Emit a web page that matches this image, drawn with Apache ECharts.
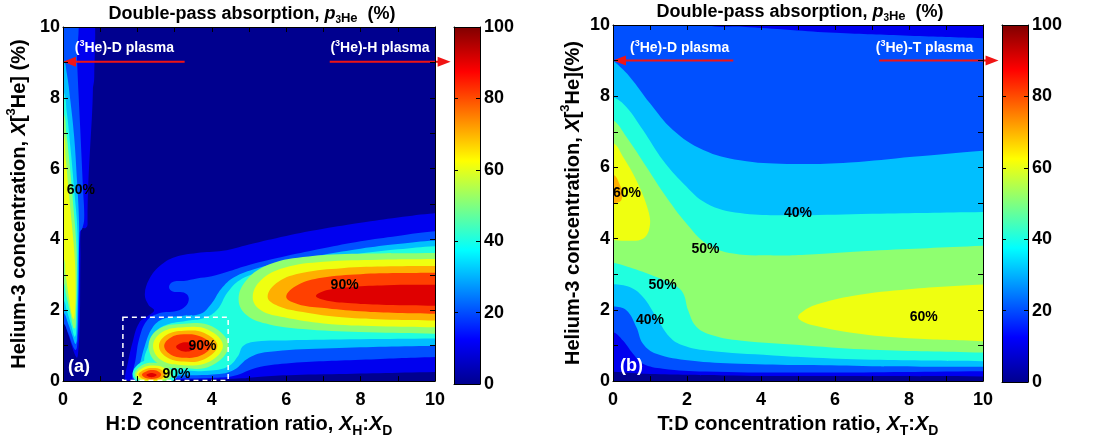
<!DOCTYPE html>
<html>
<head>
<meta charset="utf-8">
<script src="https://cdn.jsdelivr.net/npm/echarts@6/dist/echarts.min.js"></script>
<style>
html, body { margin: 0; padding: 0; background: #fff; }
#chart { width: 1101px; height: 443px; }
</style>
</head>
<body>
<div id="chart"></div>
<script>
// contour regions, in axis units: each array is the outline of "value >= level"

// panel (a): H:D, left strip near X_H:X_D = 0
const a10Strip = [[-0.3,10.5],[0.66,10.5],[0.66,4.5],[0.65,4.37],[0.6,4.32],[0.49,4.3],[0.47,3.5],[0.46,2.2],[0.44,1.3],[0.41,0.85],[0.38,0.66],[0.33,0.72],[0.22,1.05],[0.1,1.45],[0,1.75],[-0.3,1.9]];
const a10Finger = [[0.7,10.5],[0.84,10.5],[0.84,8.6],[0.81,8.32],[0.77,8.27],[0.73,8.32],[0.7,8.6]];
const a20Strip = [[-0.3,10.5],[0.33,10.5],[0.38,9],[0.46,7.2],[0.54,5.4],[0.57,4.6],[0.52,4.32],[0.45,4.2],[0.43,3],[0.41,1.6],[0.38,1.0],[0.34,0.88],[0.27,0.98],[0.14,1.35],[0,1.65],[-0.3,1.8]];
const a30Strip = [[-0.3,9.3],[0,9.1],[0.1,8.7],[0.2,7.9],[0.3,6.9],[0.38,5.6],[0.43,4.5],[0.42,3.2],[0.4,2.0],[0.37,1.15],[0.33,1.05],[0.26,1.25],[0.13,1.65],[0,1.95],[-0.3,2.05]];
const a40Strip = [[-0.3,8.4],[0,8.2],[0.1,7.6],[0.2,6.6],[0.31,5.3],[0.39,4.2],[0.39,3.0],[0.37,2.0],[0.35,1.35],[0.31,1.25],[0.23,1.55],[0.1,2.0],[0,2.3],[-0.3,2.4]];
const a50Strip = [[-0.3,7.8],[0,7.6],[0.09,7.0],[0.19,6.0],[0.29,4.8],[0.36,3.8],[0.37,2.8],[0.35,1.9],[0.33,1.5],[0.28,1.5],[0.2,1.9],[0.08,2.45],[0,2.8],[-0.3,2.9]];
const a60Strip = [[-0.3,7.2],[0,7.0],[0.07,6.3],[0.15,5.4],[0.24,4.4],[0.32,3.4],[0.34,2.5],[0.32,1.95],[0.29,1.75],[0.24,1.85],[0.16,2.35],[0.07,3.0],[0,3.5],[-0.3,3.6]];

// panel (a): main structure
const a10Main = [[10.8,4.77],[10,4.74],[9,4.62],[8,4.47],[7,4.3],[6,4.1],[5,3.86],[4.3,3.68],[3.6,3.62],[3.0,3.5],[2.6,3.25],[2.32,2.88],[2.2,2.45],[2.3,2.15],[2.45,2.0],[2.3,1.85],[2.05,1.65],[1.87,1.1],[1.74,0.5],[1.66,0.08],[1.7,0.02],[2.5,0.03],[4,0.05],[4.8,0.08],[5.5,0.14],[7,0.19],[10,0.26],[10.8,0.27]];
const a20Main = [[10.8,4.25],[10,4.23],[9,4.1],[8,3.95],[7,3.75],[6,3.53],[5,3.28],[4.4,3.08],[4.0,2.96],[3.6,2.9],[3.25,2.83],[2.95,2.8],[2.85,2.66],[2.95,2.53],[3.25,2.5],[3.38,2.35],[3.3,2.12],[3.05,1.98],[2.6,1.92],[2.25,1.7],[2.05,1.2],[1.95,0.6],[1.86,0.12],[1.9,0.05],[2.5,0.07],[4,0.09],[4.6,0.15],[5.2,0.38],[6,0.5],[8,0.6],[10,0.68],[10.8,0.69]];
const a30Main = [[10.8,3.99],[10,3.97],[9,3.87],[8,3.74],[7,3.57],[6,3.38],[5.2,3.18],[4.6,2.93],[4.25,2.6],[4.0,2.2],[3.7,1.9],[3.2,1.84],[2.7,1.76],[2.4,1.5],[2.2,1.0],[2.06,0.45],[1.97,0.1],[2.0,0.06],[3,0.15],[4.2,0.2],[4.6,0.32],[5.0,0.66],[5.5,0.82],[7,0.92],[10,1.0],[10.8,1.0]];
const a40Main = [[10.8,3.82],[10,3.81],[9,3.72],[8,3.6],[7,3.45],[6,3.27],[5.3,3.08],[4.75,2.85],[4.42,2.5],[4.15,2.02],[3.8,1.78],[3.3,1.7],[2.8,1.6],[2.5,1.4],[2.28,0.95],[2.18,0.55],[2.3,0.38],[2.6,0.33],[3.2,0.29],[4.0,0.3],[4.45,0.42],[4.7,0.7],[4.85,1.0],[5.2,1.12],[6,1.15],[8,1.18],[10,1.2],[10.8,1.2]];
const a40Small = [[1.87,0.18],[2.05,0.5],[2.45,0.6],[2.85,0.5],[3.1,0.25],[2.85,-0.05],[2.1,-0.08]];

const a50Ring = [[2.3,0.99],[2.55,1.46],[3.25,1.62],[4.0,1.55],[4.45,1.0],[4.0,0.44],[3.25,0.36],[2.55,0.5]];
const a60Ring = [[2.42,0.99],[2.66,1.38],[3.25,1.52],[3.9,1.45],[4.3,1.0],[3.9,0.53],[3.25,0.45],[2.66,0.58]];
const a70Ring = [[2.58,0.99],[2.78,1.3],[3.25,1.42],[3.8,1.36],[4.15,1.0],[3.8,0.62],[3.25,0.55],[2.78,0.68]];
const a80Ring = [[2.72,0.99],[2.88,1.22],[3.25,1.32],[3.7,1.26],[3.98,1.0],[3.7,0.72],[3.25,0.66],[2.88,0.76]];
const a90Ring = [[3.04,0.97],[3.14,1.06],[3.3,1.1],[3.47,1.06],[3.56,0.97],[3.47,0.87],[3.3,0.83],[3.14,0.87]];

const a50Small = [[1.92,0.18],[2.12,0.45],[2.45,0.52],[2.78,0.43],[2.95,0.2],[2.7,-0.03],[2.15,-0.03]];
const a60Small = [[1.97,0.18],[2.15,0.38],[2.45,0.44],[2.72,0.37],[2.85,0.19],[2.65,0.02],[2.2,0.01]];
const a70Small = [[2.03,0.18],[2.2,0.33],[2.42,0.37],[2.64,0.32],[2.75,0.18],[2.6,0.05],[2.22,0.04]];
const a80Small = [[2.12,0.18],[2.25,0.28],[2.4,0.31],[2.55,0.28],[2.64,0.18],[2.52,0.08],[2.25,0.08]];
const a90Small = [[2.24,0.17],[2.38,0.23],[2.52,0.17],[2.38,0.11]];

const a50Ell = [[4.72,2.3],[4.93,2.85],[5.55,3.3],[6.6,3.52],[8.2,3.6],[10,3.62],[10.8,3.63],[10.8,1.33],[10,1.34],[8.2,1.38],[6.6,1.46],[5.55,1.6],[4.95,1.85]];
const a60Ell = [[5.1,2.36],[5.32,2.85],[5.95,3.2],[7,3.37],[8.5,3.43],[10,3.45],[10.8,3.46],[10.8,1.5],[10,1.52],[8.5,1.55],[7,1.63],[5.95,1.8],[5.32,2.0]];
const a70Ell = [[5.5,2.38],[5.78,2.8],[6.45,3.06],[7.5,3.19],[8.8,3.24],[10,3.25],[10.8,3.26],[10.8,1.7],[10,1.71],[8.8,1.73],[7.5,1.8],[6.45,1.95],[5.78,2.12]];
const a80Ell = [[6.0,2.38],[6.32,2.72],[6.95,2.92],[8,3.02],[9,3.05],[10,3.06],[10.8,3.07],[10.8,1.89],[10,1.9],[9,1.92],[8,1.97],[6.95,2.07],[6.32,2.17]];
const a90Ell = [[6.8,2.4],[7.1,2.57],[7.75,2.66],[8.7,2.71],[10,2.72],[10.8,2.73],[10.8,2.12],[10,2.13],[8.7,2.15],[7.75,2.2],[7.1,2.27]];

// panel (b): T:D
const b10 = [[-0.5,10.5],[10.5,10.5],[10.5,0.13],[10,0.13],[5,0.14],[3,0.16],[1,0.2],[0,0.26],[-0.5,0.28]];
const b20 = [[-0.5,10.5],[2.0,10.5],[2.5,10.02],[3.5,9.95],[4.8,9.86],[6,9.78],[8,9.7],[10,9.63],[10.5,9.6],[10.5,0.28],[10,0.28],[5.2,0.24],[2.5,0.27],[1.35,0.35],[0.81,0.49],[0.54,0.77],[0.27,1.14],[0,1.38],[-0.5,1.45]];
const b30 = [[-0.5,9.4],[0,9.0],[0.45,8.55],[1.0,7.8],[1.62,7.05],[2.44,6.49],[3.43,6.2],[4.7,6.1],[6.4,6.14],[8.1,6.3],[10,6.47],[10.5,6.5],[10.5,0.4],[10,0.4],[7,0.42],[5.2,0.45],[3.43,0.49],[2.08,0.58],[1.17,0.77],[0.81,1.05],[0.63,1.52],[0.36,1.99],[0,2.1],[-0.5,2.15]];
const b40 = [[-0.5,8.1],[0,7.98],[0.36,7.7],[0.81,7.05],[1.35,6.2],[1.9,5.55],[2.53,4.99],[3.43,4.72],[4.87,4.66],[7,4.7],[10,4.75],[10.5,4.76],[10.5,0.56],[10,0.56],[7,0.6],[5.2,0.67],[4.33,0.72],[2.53,0.86],[1.9,1.0],[1.53,1.24],[1.17,1.8],[0.81,2.36],[0.45,2.64],[0,2.72],[-0.5,2.74]];
const b50 = [[-0.5,7.5],[0,7.33],[0.36,6.86],[0.9,6.02],[1.44,5.17],[1.99,4.42],[2.53,3.86],[3.25,3.58],[4.33,3.53],[5.2,3.55],[7,3.66],[10,3.8],[10.5,3.82],[10.5,0.79],[10,0.8],[7,0.88],[5.2,1.0],[3.43,1.14],[2.71,1.28],[2.26,1.52],[2.03,1.99],[1.9,2.46],[1.67,2.69],[1.17,2.92],[0.54,3.16],[0,3.32],[-0.5,3.35]];
const b60Left = [[-0.5,6.8],[0,6.69],[0.27,6.3],[0.63,5.64],[0.95,4.8],[0.99,4.33],[0.81,4.0],[0.36,3.94],[0,3.96],[-0.5,3.96]];
const b60Right = [[5.0,1.8],[5.15,1.97],[5.5,2.15],[6.5,2.4],[8,2.58],[10,2.71],[10.8,2.74],[10.8,1.09],[10,1.12],[8,1.2],[6.5,1.35],[5.5,1.55],[5.15,1.66]];
const b70Left = [[-0.5,5.85],[0,5.8],[0.17,5.55],[0.25,5.25],[0.2,5.05],[0,5.0],[-0.5,5.0]];

const contoursA = [
  [10, a10Strip], [10, a10Finger], [10, a10Main],
  [20, a20Strip], [20, a20Main],
  [30, a30Strip], [30, a30Main],
  [40, a40Strip], [40, a40Main], [40, a40Small],
  [50, a50Strip], [50, a50Ring], [50, a50Ell], [50, a50Small],
  [60, a60Strip], [60, a60Ring], [60, a60Ell], [60, a60Small],
  [70, a70Ring], [70, a70Ell], [70, a70Small],
  [80, a80Ring], [80, a80Ell], [80, a80Small],
  [90, a90Ring], [90, a90Ell], [90, a90Small]
];
const contoursB = [
  [10, b10], [20, b20], [30, b30], [40, b40], [50, b50],
  [60, b60Left], [60, b60Right], [70, b70Left]
];

// contour labels: text, x, y
const labelsA = [['60%', 0.48, 5.38], ['90%', 7.57, 2.72], ['90%', 3.75, 0.98], ['90%', 3.05, 0.2]];
const labelsB = [['60%', 0.38, 5.28], ['40%', 5.0, 4.72], ['50%', 2.5, 3.71], ['50%', 1.34, 2.69], ['40%', 1.0, 1.71], ['60%', 8.4, 1.79]];

// plasma annotations: text, x, y   and arrows: x from, y, x to, y
const plasmaA = [['({s|3}He)-D plasma', 1.65, 9.41], ['({s|3}He)-H plasma', 8.52, 9.41]];
const plasmaB = [['({s|3}He)-D plasma', 1.8, 9.36], ['({s|3}He)-T plasma', 8.42, 9.36]];
const arrowsA = [[3.27, 9.02, 0, 9.02], [7.17, 9.02, 10.42, 9.02]];
const arrowsB = [[3.25, 9.0, 0, 9.0], [7.19, 9.0, 10.42, 9.0]];
const tagA = ['(a)', 0.43, 0.4];
const tagB = ['(b)', 0.5, 0.42];
const boxA = [1.61, 0.02, 4.44, 1.8];

const axisLabels = [0, 2, 4, 6, 8, 10];
const cbarLabels = [0, 20, 40, 60, 80, 100];

// ---- styling ----
const FONT = '"Liberation Sans", Arial, sans-serif';
const levelColors = {0: '#00008f', 10: '#0000ef', 20: '#0050ff', 30: '#00bfff', 40: '#20ffdf',
  50: '#8fff70', 60: '#efff10', 70: '#ffaf00', 80: '#ff4000', 90: '#df0000'};
const jetStops = [[0, '#00008f'], [0.125, '#0000ff'], [0.375, '#00ffff'], [0.625, '#ffff00'], [0.875, '#ff0000'], [1, '#800000']];
const ARROW = '#f01414';

const axLine = {show: true, onZero: false, lineStyle: {color: '#000', width: 1}};
const axTick = {show: true, inside: true, length: 5, lineStyle: {color: '#000', width: 1}};
const tickFont = {color: '#000', fontSize: 18, fontWeight: 'bold', fontFamily: FONT};

function tok(size, extra) {
  return Object.assign({fontSize: size, fontWeight: 'bold', fontFamily: FONT, color: '#000'}, extra || {});
}
const nameRich = {
  b: tok(20, {lineHeight: 28}),
  i: tok(20, {lineHeight: 28, fontStyle: 'italic'}),
  sub: tok(14, {lineHeight: 14, verticalAlign: 'bottom'}),
  sup: tok(13, {lineHeight: 12, verticalAlign: 'top'})
};
const titleRich = {
  b: tok(18, {lineHeight: 22}),
  i: tok(18, {lineHeight: 22, fontStyle: 'italic'}),
  s3: tok(10, {lineHeight: 16, verticalAlign: 'bottom'}),
  sub: tok(13, {lineHeight: 13, verticalAlign: 'bottom'})
};
const titleText = '{b|Double-pass absorption, }{i|p}{s3|3}{sub|He}{b|  (%)}';

function labelFmt(list) {
  return function (v) { return list.indexOf(v) >= 0 ? String(v) : ''; };
}

function xAxes(grid, name) {
  return [
    {gridIndex: grid, type: 'value', min: 0, max: 10, interval: 1, position: 'bottom', z: 10,
      axisLine: axLine, axisTick: axTick, splitLine: {show: false},
      axisLabel: Object.assign({margin: 10, formatter: labelFmt(axisLabels)}, tickFont),
      name: name, nameLocation: 'middle', nameGap: 25, nameTextStyle: {rich: nameRich}},
    {gridIndex: grid, type: 'value', min: 0, max: 10, interval: 1, position: 'top', z: 10,
      axisLine: axLine, axisTick: axTick, splitLine: {show: false}, axisLabel: {show: false}}
  ];
}
function yAxes(grid, name, gap) {
  return [
    {gridIndex: grid, type: 'value', min: 0, max: 10, interval: 1, position: 'left', z: 10,
      axisLine: axLine, axisTick: axTick, splitLine: {show: false},
      axisLabel: Object.assign({margin: 3, formatter: labelFmt(axisLabels)}, tickFont),
      name: name, nameLocation: 'middle', nameGap: gap, nameRotate: 90, nameTextStyle: {rich: nameRich}},
    {gridIndex: grid, type: 'value', min: 0, max: 10, interval: 1, position: 'right', z: 10,
      axisLine: axLine, axisTick: axTick, splitLine: {show: false}, axisLabel: {show: false}}
  ];
}
function cbarAxes(grid) {
  const x = [
    {gridIndex: grid, type: 'value', min: 0, max: 1, position: 'bottom', z: 10, axisLine: axLine,
      axisTick: {show: false}, axisLabel: {show: false}, splitLine: {show: false}},
    {gridIndex: grid, type: 'value', min: 0, max: 1, position: 'top', z: 10, axisLine: axLine,
      axisTick: {show: false}, axisLabel: {show: false}, splitLine: {show: false}}
  ];
  const y = [
    {gridIndex: grid, type: 'value', min: 0, max: 100, interval: 20, position: 'right', z: 10,
      axisLine: axLine, axisTick: {show: true, inside: true, length: 4, lineStyle: {color: '#000'}},
      splitLine: {show: false}, axisLabel: Object.assign({margin: 4, formatter: labelFmt(cbarLabels)}, tickFont)},
    {gridIndex: grid, type: 'value', min: 0, max: 100, interval: 20, position: 'left', z: 10,
      axisLine: axLine, axisTick: {show: true, inside: true, length: 4, lineStyle: {color: '#000'}},
      splitLine: {show: false}, axisLabel: {show: false}}
  ];
  return {x: x, y: y};
}

function contourSeries(axis, list) {
  return {
    type: 'custom', xAxisIndex: axis, yAxisIndex: axis, z: 2, silent: true, clip: true,
    data: list.map(function (c, i) { return [5, 5, i]; }),
    renderItem: function (params, api) {
      const item = list[params.dataIndex];
      const cs = params.coordSys;
      return {
        type: 'group',
        clipPath: {type: 'rect', shape: {x: cs.x, y: cs.y, width: cs.width, height: cs.height}},
        children: [{
          type: 'polygon',
          shape: {points: item[1].map(function (p) { return api.coord(p); }), smooth: 0.4},
          style: {fill: levelColors[item[0]], stroke: null}
        }]
      };
    }
  };
}

function textEl(p, text, size, color, rich) {
  return {
    type: 'text', x: p[0], y: p[1],
    style: {text: text, fill: color, fontSize: size, fontWeight: 'bold', fontFamily: FONT,
      align: 'center', verticalAlign: 'middle', lineHeight: size + 4, rich: rich || {}}
  };
}

function annotationSeries(axis, arrows, plasma, labels, tag, box) {
  return {
    type: 'custom', xAxisIndex: axis, yAxisIndex: axis, z: 5, silent: true, clip: false,
    data: [[5, 5]],
    renderItem: function (params, api) {
      const ch = [];
      if (box) {
        const q0 = api.coord([box[0], box[3]]), q1 = api.coord([box[2], box[1]]);
        ch.push({type: 'rect', shape: {x: q0[0], y: q0[1], width: q1[0] - q0[0], height: q1[1] - q0[1]},
          style: {fill: 'rgba(0,0,0,0)', stroke: '#fff', lineWidth: 1.5, lineDash: [5, 4]}});
      }
      arrows.forEach(function (a) {
        const p0 = api.coord([a[0], a[1]]), p1 = api.coord([a[2], a[3]]);
        const dir = p1[0] > p0[0] ? 1 : -1;
        ch.push({type: 'line', shape: {x1: p0[0], y1: p0[1], x2: p1[0] - dir * 8, y2: p1[1]},
          style: {stroke: ARROW, lineWidth: 2}});
        ch.push({type: 'polygon', shape: {points: [[p1[0], p1[1]], [p1[0] - dir * 13, p1[1] - 5], [p1[0] - dir * 13, p1[1] + 5]]},
          style: {fill: ARROW}});
      });
      const supRich = {s: {fontSize: 9, fontWeight: 'bold', fontFamily: FONT, fill: '#fff', color: '#fff', lineHeight: 10, verticalAlign: 'top'}};
      plasma.forEach(function (t) { ch.push(textEl(api.coord([t[1], t[2]]), t[0], 14, '#fff', supRich)); });
      labels.forEach(function (t) { ch.push(textEl(api.coord([t[1], t[2]]), t[0], 14, '#000')); });
      ch.push(textEl(api.coord([tag[1], tag[2]]), tag[0], 18, '#fff'));
      return {type: 'group', children: ch};
    }
  };
}

function cbarSeries(axis) {
  return {
    type: 'custom', xAxisIndex: axis, yAxisIndex: axis, z: 2, silent: true,
    data: [[0.5, 50]],
    renderItem: function (params, api) {
      const p0 = api.coord([0, 100]), p1 = api.coord([1, 0]);
      return {
        type: 'rect', shape: {x: p0[0], y: p0[1], width: p1[0] - p0[0], height: p1[1] - p0[1]},
        style: {fill: new echarts.graphic.LinearGradient(0, 1, 0, 0,
          jetStops.map(function (s) { return {offset: s[0], color: s[1]}; }))}
      };
    }
  };
}

const cbA = cbarAxes(2), cbB = cbarAxes(3);
const chart = echarts.init(document.getElementById('chart'), null, {renderer: 'canvas'});
chart.setOption({
  animation: false,
  backgroundColor: '#fff',
  title: [
    {text: titleText, left: 247, top: -2, textAlign: 'center', textStyle: {rich: titleRich}},
    {text: titleText, left: 795, top: -4, textAlign: 'center', textStyle: {rich: titleRich}}
  ],
  grid: [
    {left: 63, top: 27, width: 372, height: 357, show: true, backgroundColor: levelColors[0], borderWidth: 0},
    {left: 613, top: 25, width: 370, height: 357, show: true, backgroundColor: levelColors[0], borderWidth: 0},
    {left: 454, top: 27, width: 26, height: 357},
    {left: 1002, top: 25, width: 26, height: 357}
  ],
  xAxis: [].concat(
    xAxes(0, '{b|H:D concentration ratio, }{i|X}{sub|H}{b|:}{i|X}{sub|D}'),
    xAxes(1, '{b|T:D concentration ratio, }{i|X}{sub|T}{b|:}{i|X}{sub|D}'),
    cbA.x, cbB.x),
  yAxis: [].concat(
    yAxes(0, '{b|Helium-3 concentration, }{i|X}{b|[}{sup|3}{b|He] (%)}', 30),
    yAxes(1, '{b|Helium-3 concentration, }{i|X}{b|[}{sup|3}{b|He](%)}', 26),
    cbA.y, cbB.y),
  series: [
    contourSeries(0, contoursA),
    annotationSeries(0, arrowsA, plasmaA, labelsA, tagA, boxA),
    contourSeries(2, contoursB),
    annotationSeries(2, arrowsB, plasmaB, labelsB, tagB, null),
    cbarSeries(4),
    cbarSeries(6)
  ]
});
</script>
</body>
</html>
